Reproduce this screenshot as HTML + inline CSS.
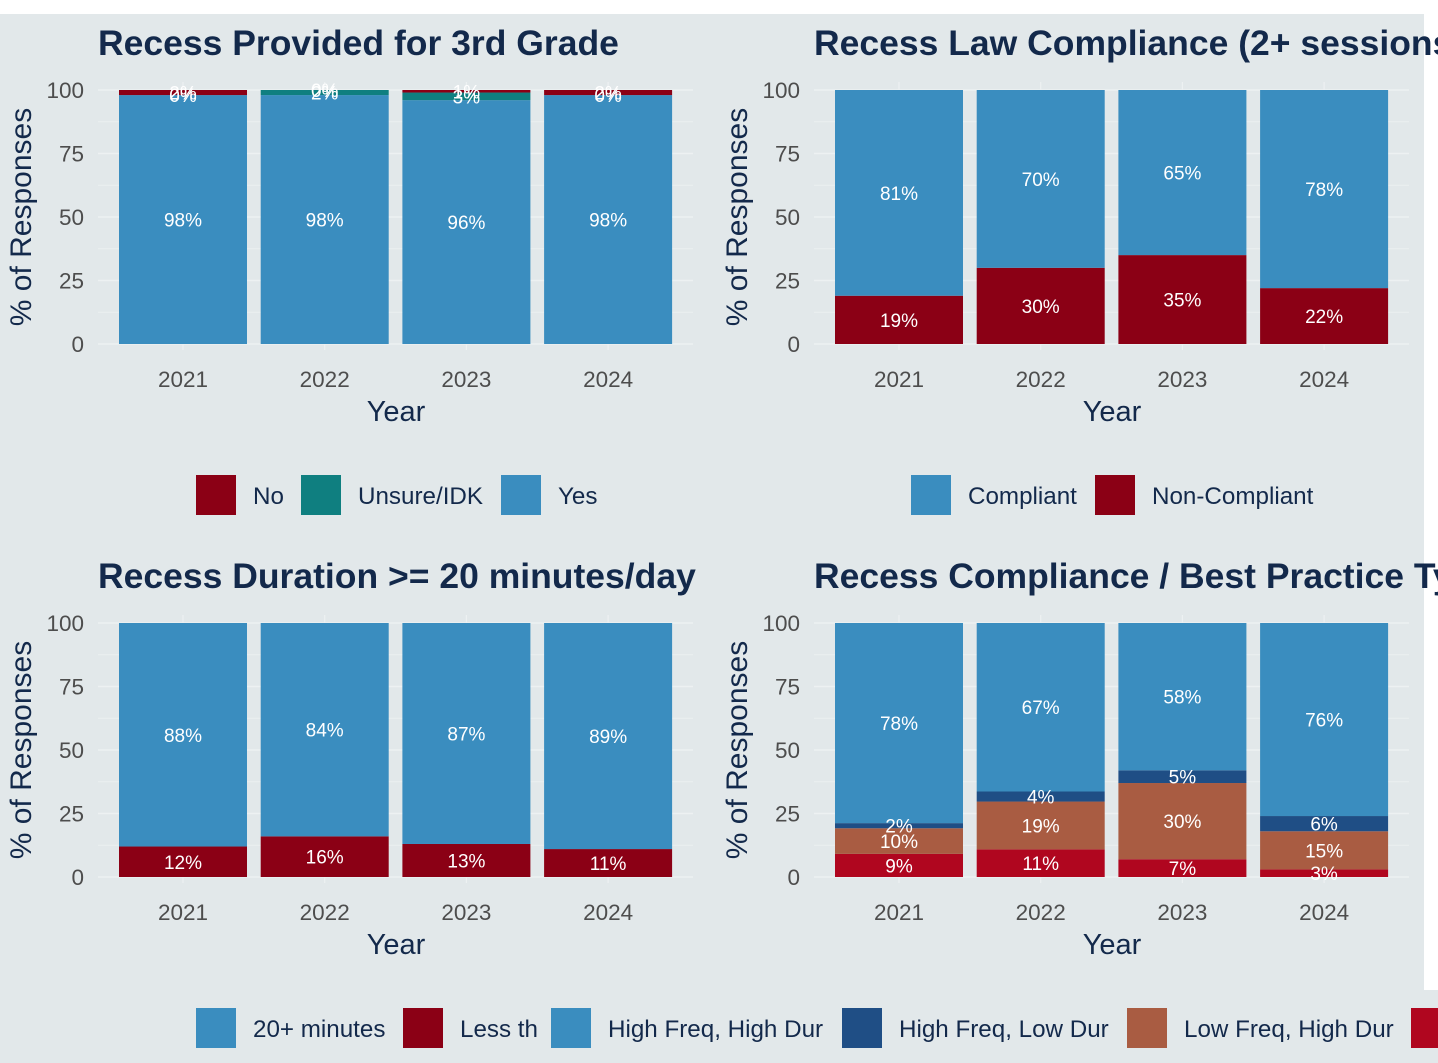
<!DOCTYPE html>
<html><head><meta charset="utf-8"><style>
html,body{margin:0;padding:0;background:#fff}
svg{display:block;font-family:"Liberation Sans",Arial,sans-serif}
</style></head><body>
<svg id="c" width="1438" height="1063" viewBox="0 0 1438 1063"></svg>
<script>
const years = ["2021","2022","2023","2024"];
// panel 1: Recess Provided (bottom -> top: Yes, Unsure, No)
const p1Yes = [98, 98, 96, 98];
const p1Unsure = [0, 2, 3, 0];
const p1No = [2, 0, 1, 2];
// panel 2: Law compliance (bottom -> top: Non-Compliant, Compliant)
const p2Non = [19, 30, 35, 22];
const p2Comp = [81, 70, 65, 78];
// panel 3: Duration (bottom -> top: Less than 20, 20+)
const p3Less = [12, 16, 13, 11];
const p3More = [88, 84, 87, 89];
// panel 4: Best practice (bottom -> top: LowLow, LowHigh, HighLow, HighHigh)
const p4LowLow = [9, 11, 7, 3];
const p4LowHigh = [10, 19, 30, 15];
const p4HighLow = [2, 4, 5, 6];
const p4HighHigh = [78, 67, 58, 76];
const yTicks = [0, 25, 50, 75, 100];

const C = {blue:"#3a8dbf", red:"#8b0015", teal:"#0f7f80", navy:"#1f4e85", brown:"#a95c42", red2:"#b0061f"};
const NS = "http://www.w3.org/2000/svg";
const svg = document.getElementById("c");
function el(tag, attrs, parent, text){
  const e = document.createElementNS(NS, tag);
  for (const k in attrs) e.setAttribute(k, attrs[k]);
  if (text !== undefined) e.textContent = text;
  (parent||svg).appendChild(e);
  return e;
}
el("rect",{x:0,y:0,width:1438,height:1063,fill:"#e2e8ea"});
el("rect",{x:0,y:0,width:1438,height:14,fill:"#ffffff"});
el("rect",{x:1424,y:14,width:14,height:976,fill:"#ffffff"});

function panel(name, ox, oy, title, series, colors){
  const g = el("g",{});
  
  
  const y0 = oy + 254, ppu = 2.54;
  const yS = v => y0 - v*ppu;
  const xC = i => ox + 183 + i*141.7;
  for (let v=0; v<=100; v+=12.5){
    el("line",{x1:ox+98,x2:ox+693,y1:yS(v),y2:yS(v),stroke:"#edf1f2","stroke-width":v%25===0?1.4:0.8},g);
  }
  years.forEach((y,i)=>el("line",{x1:xC(i),x2:xC(i),y1:yS(100)-8,y2:y0+6,stroke:"#edf1f2","stroke-width":1.2},g));
  const t = el("text",{x:ox+98,y:oy-35,"font-size":35.5,"font-weight":"bold",fill:"#13294b"},g,title);
  
  
  yTicks.forEach(v=>{
    const tk = el("text",{x:ox+84,y:yS(v)+8,"font-size":22.5,fill:"#4d4d4d","text-anchor":"end"},g,String(v));
    
    
  });
  const yt = el("text",{transform:`translate(${ox+31},${oy+127}) rotate(-90)`,"font-size":30,fill:"#13294b","text-anchor":"middle"},g,"% of Responses");
  
  
  const xt = el("text",{x:ox+396,y:oy+331,"font-size":29,fill:"#13294b","text-anchor":"middle"},g,"Year");
  
  
  years.forEach((yr,i)=>{
    const xl = el("text",{x:xC(i),y:y0+43,"font-size":22.5,fill:"#4d4d4d","text-anchor":"middle"},g,yr);
    
    
    const total = series.reduce((a,s)=>a+s[i],0);
    let cum = 0;
    const labels = [];
    series.forEach((s,k)=>{
      const v = s[i]/total*100;
      const r = el("rect",{x:xC(i)-64,y:yS(cum+v),width:128,height:v*ppu,fill:colors[k]},g);
      
      
      labels.push([cum+v/2, s[i]]);
      cum += v;
    });
    labels.forEach(([mid,v])=>{
      const lt = el("text",{x:xC(i),y:yS(mid)+7,"font-size":19,fill:"#ffffff","text-anchor":"middle"},g,v+"%");
      
      
    });
  });
}
panel("recess-provided-chart",0,90,"Recess Provided for 3rd Grade",[p1Yes,p1Unsure,p1No],[C.blue,C.teal,C.red]);
panel("law-compliance-chart",716,90,"Recess Law Compliance (2+ sessions)",[p2Non,p2Comp],[C.red,C.blue]);
panel("duration-chart",0,623,"Recess Duration >= 20 minutes/day",[p3Less,p3More],[C.red,C.blue]);
panel("best-practice-chart",716,623,"Recess Compliance / Best Practice Types",[p4LowLow,p4LowHigh,p4HighLow,p4HighHigh],[C.red2,C.brown,C.navy,C.blue]);

function legend(items, y){
  items.forEach(([sx,tx,col,label])=>{
    const r = el("rect",{x:sx,y:y,width:40,height:40,fill:col});
    
    
    const t = el("text",{x:tx,y:y+29,"font-size":24.2,fill:"#13294b"},svg,label);
    
    
  });
}
legend([[196,253,C.red,"No"],[301,358,C.teal,"Unsure/IDK"],[501,558,C.blue,"Yes"]],475);
legend([[911,968,C.blue,"Compliant"],[1095,1152,C.red,"Non-Compliant"]],475);
legend([[196,253,C.blue,"20+ minutes"],[403,460,C.red,"Less than 20 minutes"]],1008);
el("rect",{x:537,y:1000,width:901,height:56,fill:"#e2e8ea"});
legend([[551,608,C.blue,"High Freq, High Dur"],[842,899,C.navy,"High Freq, Low Dur"],[1127,1184,C.brown,"Low Freq, High Dur"],[1411,1468,C.red2,"Low Freq, Low Dur"]],1008);
</script>
</body></html>
